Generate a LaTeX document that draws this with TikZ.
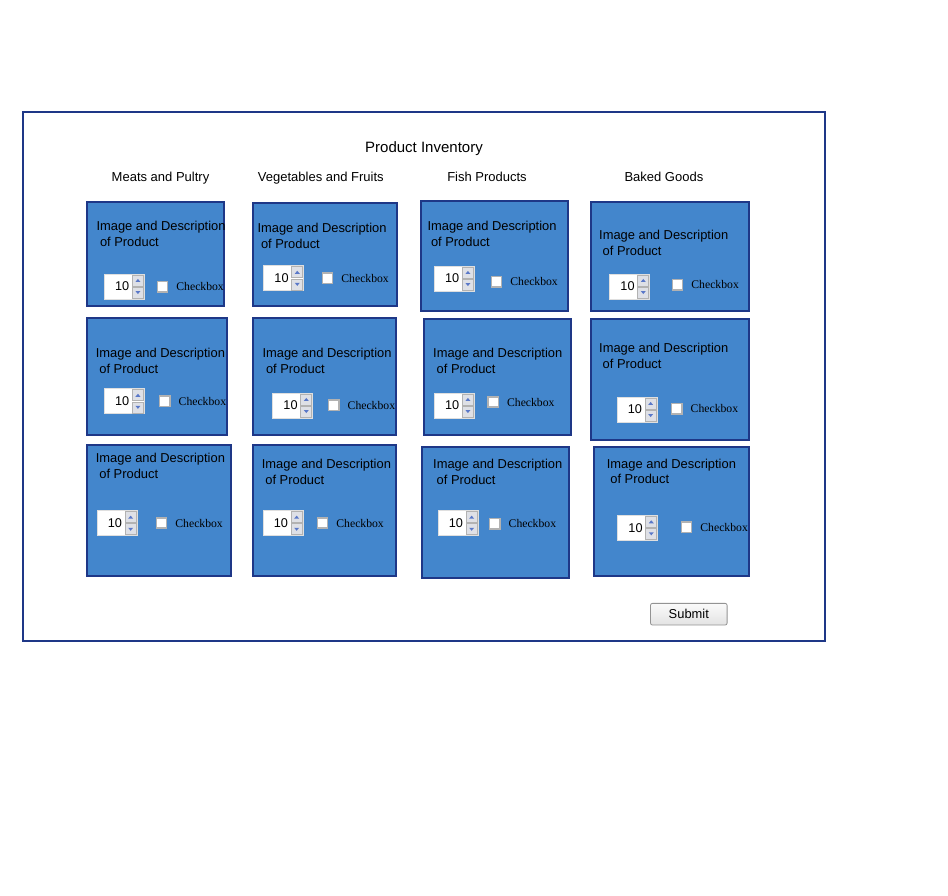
\documentclass[tikz,border=0pt]{standalone}
\usepackage{fontspec}
\setmainfont{Liberation Sans}
\newfontfamily\chkfont{Liberation Serif}
\usepackage{xcolor}
\usepackage{tikz}
\usetikzlibrary{positioning, fit}

\definecolor{navy}{RGB}{30,55,135}
\definecolor{tileblue}{RGB}{67,134,204}
\definecolor{btngray}{RGB}{222,224,230}
\definecolor{triblue}{RGB}{90,120,200}

% one product tile: name, top left, bottom right, text, spinner, checkbox
\newcommand{\product}[6]{%
  \node[prodbox, fit={#2 #3}] (#1) {};
  \node[desc, anchor=base west] (#1-l1) at #4 {Image and Description};
  \node[desc, anchor=base west] (#1-l2) at ([xshift=3.5pt, yshift=-15.7pt]#1-l1.base west) {of Product};
  \node[spin, anchor=west] (#1-spin) at #5 {};
  \node[spinval, anchor=east] (#1-val) at ([xshift=25.5pt]#1-spin.west) {10};
  \node[spinbtn, anchor=north east] (#1-up) at ([xshift=-1pt, yshift=-1pt]#1-spin.north east) {};
  \node[spinbtn, anchor=south east] (#1-dn) at ([xshift=-1pt, yshift=1pt]#1-spin.south east) {};
  \fill[triblue] ([xshift=-2.5pt, yshift=-1.5pt]#1-up.center) -- ++(5pt,0pt) -- ++(-2.5pt,3pt) -- cycle;
  \fill[triblue] ([xshift=-2.5pt, yshift=1.5pt]#1-dn.center) -- ++(5pt,0pt) -- ++(-2.5pt,-3pt) -- cycle;
  \node[chk, anchor=west] (#1-chk) at #6 {};
  \node[chklbl, right=7.8pt of #1-chk] (#1-lbl) {Checkbox};
}

\begin{document}
\begin{tikzpicture}[x=1pt, y=-1pt]
\tikzstyle{frame} = [rectangle, draw=navy, line width=2pt, inner sep=0pt]
\tikzstyle{prodbox} = [rectangle, draw=navy, fill=tileblue, line width=2pt, inner sep=0pt]
\tikzstyle{title} = [inner sep=0pt, font=\fontsize{15}{18}\selectfont]
\tikzstyle{colhead} = [inner sep=0pt, font=\fontsize{13}{16}\selectfont]
\tikzstyle{desc} = [inner sep=0pt, font=\fontsize{12.9}{15}\selectfont]
\tikzstyle{spin} = [rectangle, draw=gray!25, fill=white, line width=0.8pt, minimum width=40pt, minimum height=25pt, inner sep=0pt]
\tikzstyle{spinval} = [inner sep=0pt, font=\fontsize{12.7}{15}\selectfont]
\tikzstyle{spinbtn} = [rectangle, draw=gray!60, fill=btngray, line width=0.7pt, minimum width=11pt, minimum height=11pt, inner sep=0pt]
\tikzstyle{chk} = [rectangle, draw=gray!60, fill=white, line width=1.5pt, minimum size=10.3pt, inner sep=0pt]
\tikzstyle{chklbl} = [inner sep=0pt, font=\chkfont\fontsize{11.7}{14}\selectfont]
\tikzstyle{submit} = [rectangle, rounded corners=2pt, draw=gray!85, top color=gray!4, bottom color=gray!22, line width=0.8pt, minimum width=76.6pt, minimum height=21.7pt, inner sep=0pt, font=\fontsize{12.9}{15}\selectfont]

\useasboundingbox (0,0) rectangle (948,896);

\node[frame, fit={(23,112) (825,641)}] (form) {};
\node[title, anchor=base] (title) at (424,152.7) {Product Inventory};

\node[colhead, anchor=base] (meats) at (160.5,181.7) {Meats and Pultry};
\node[colhead, anchor=base] (veg) at (320.8,181.7) {Vegetables and Fruits};
\node[colhead, anchor=base] (fish) at (487,181.7) {Fish Products};
\node[colhead, anchor=base] (baked) at (663.9,181.7) {Baked Goods};

% first row
\product{a1}{(87,202)}{(224,305.7)}{(96.3,230.5)}{(104,286.5)}{(156.6,286.7)}
\product{b1}{(253.3,202.7)}{(396.7,305.7)}{(257.3,232.8)}{(263.3,278.3)}{(321.6,278.2)}
\product{c1}{(421,201)}{(568,310.7)}{(427.3,230.5)}{(434,278.5)}{(490.6,281.7)}
\product{d1}{(591,202)}{(749,311.3)}{(599,239.8)}{(609.3,286.5)}{(671.6,284.8)}

% second row
\product{a2}{(87,317.7)}{(227.3,435)}{(95.7,357.8)}{(104,401.3)}{(158.9,401.3)}
\product{b2}{(253.3,317.7)}{(396.3,435)}{(262.3,357.8)}{(272.3,405.5)}{(327.9,405.2)}
\product{c2}{(424.3,319)}{(570.7,435.3)}{(433,357.5)}{(434,405.5)}{(487.3,402)}
\product{d2}{(591,319.3)}{(749,439.7)}{(599,352.8)}{(616.7,409.5)}{(670.9,408.8)}

% third row
\product{a3}{(87,445)}{(230.7,576.3)}{(95.7,462.5)}{(96.7,523.2)}{(155.6,523)}
\product{b3}{(253.3,445)}{(396.3,576.3)}{(261.7,468.5)}{(262.7,523.2)}{(316.6,523)}
\product{c3}{(422,447.3)}{(569,578.3)}{(433,468.5)}{(437.7,523.2)}{(488.9,523.7)}
\product{d3}{(594.3,447)}{(749,575.7)}{(606.7,468.2)}{(617.3,527.8)}{(680.6,527.2)}

\node[submit] (submit) at (688.8,614.2) {Submit};

\end{tikzpicture}
\end{document}
